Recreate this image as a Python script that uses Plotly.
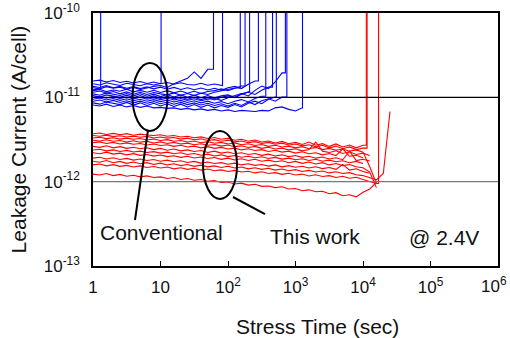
import plotly.graph_objects as go

# time grid (s)
T = [1, 1.26, 1.58, 2.0, 2.51, 3.16, 3.98, 5.01, 6.31, 7.94,
     10, 12.6, 15.8, 20.0, 25.1, 31.6, 39.8, 50.1, 63.1, 79.4,
     100, 126, 158, 200, 251, 316, 398, 501, 631, 794,
     1000, 1260, 1580, 2000, 2510, 3160, 3980, 5010, 6310, 7940,
     10000, 12600, 15800, 20000, 25100]

# Conventional cells: leakage in pA on the T grid, then breakdown time (s)
conv_01 = [12.3, 12.5]
conv_02 = [14.5, 14.0, 14.9, 14.3, 13.8, 14.7, 14.2, 13.7, 14.5, 14.0, 14.6]
conv_03 = [13.0, 12.6, 13.4, 12.8, 13.2, 12.5, 13.1, 12.4, 12.9, 13.5, 13.8, 13.1,
           14.5, 15.5, 16.8, 20.0, 16.8, 21.5]
conv_04 = [15.6, 16.0, 15.2, 15.8, 15.0, 15.5, 14.8, 15.4, 14.6, 15.2, 14.5, 15.0,
           14.3, 14.9, 14.2, 14.0, 14.7, 13.9, 14.4, 13.8]
conv_05 = [11.5, 11.9, 11.2, 11.7, 11.0, 11.6, 10.9, 11.5, 10.8, 11.4, 11.0, 10.7,
           11.3, 10.6, 11.1, 10.5, 11.2, 10.8, 11.5, 11.9, 12.4, 12.9]
conv_06 = [12.0, 12.4, 11.7, 12.2, 11.8, 12.5, 11.6, 12.1, 11.5, 12.1, 11.4, 12.0,
           11.3, 11.9, 11.2, 11.8, 11.1, 11.7, 12.0, 12.6, 12.0, 12.9, 13.6]
conv_07 = [10.5, 10.1, 10.7, 10.3, 10.0, 10.6, 9.9, 10.5, 9.8, 10.4, 9.7, 10.3,
           9.6, 10.1, 9.5, 10.0, 9.4, 9.9, 9.3, 10.0, 10.4, 9.9, 10.9, 11.6]
conv_08 = [13.5, 13.1, 13.8, 13.0, 13.5, 12.8, 13.4, 12.7, 13.3, 12.6, 13.2, 12.5,
           13.1, 12.4, 13.0, 12.3, 12.9, 12.2, 12.8, 12.1, 13.0, 13.5, 12.7, 14.3, 15.6]
conv_09 = [9.5, 9.8, 9.3, 9.7, 9.2, 9.6, 9.1, 9.5, 9.0, 9.4, 8.9, 9.3,
           8.8, 9.2, 8.7, 9.1, 8.6, 9.0, 8.5, 8.9, 8.4, 9.0, 9.4, 8.8, 9.7, 10.3]
conv_10 = [11.0, 10.6, 11.3, 10.8, 10.5, 11.1, 10.4, 11.0, 10.3, 10.9, 10.2, 10.8,
           10.1, 10.7, 10.0, 10.6, 9.9, 10.5, 9.8, 10.4, 10.7, 10.0, 11.0, 11.5,
           10.8, 12.1, 13.2]
conv_11 = [8.6, 8.3, 8.8, 8.4, 8.2, 8.7, 8.1, 8.6, 8.0, 8.5, 7.9, 8.4,
           7.8, 8.3, 7.7, 8.2, 7.6, 8.1, 7.5, 8.0, 7.6, 8.2, 7.7, 8.5, 9.0, 8.4, 9.5, 10.1]
conv_12 = [10.0, 10.3, 9.8, 10.2, 9.7, 10.1, 9.6, 10.0, 9.5, 9.9, 9.4, 9.8,
           9.3, 9.7, 9.2, 9.6, 9.1, 9.5, 9.7, 9.2, 9.9, 10.5, 11.1, 10.4, 12.1, 13.6,
           12.7, 15.2, 19.5]
conv_13 = [9.0, 9.3, 8.8, 9.2, 8.7, 9.1, 8.6, 9.0, 8.5, 8.9, 8.4, 8.8,
           8.3, 8.7, 8.2, 8.6, 8.1, 8.5, 8.0, 8.4, 7.9, 8.5, 8.0, 8.8, 8.2, 9.1,
           9.6, 9.0, 10.1]
conv_14 = [8.1, 7.9, 8.3, 7.8, 8.1, 7.7, 8.0, 7.6, 7.9, 7.5, 7.6, 7.4,
           7.5, 7.2, 7.4, 7.1, 7.3, 7.0, 7.2, 6.9, 7.1, 6.8, 7.0, 6.9, 6.8, 7.0,
           6.9, 7.5, 7.7, 7.2, 6.9, 7.5]
conv_curves = [conv_01, conv_02, conv_03, conv_04, conv_05, conv_06, conv_07,
               conv_08, conv_09, conv_10, conv_11, conv_12, conv_13, conv_14]
conv_fail = [1.3, 10.2, 61, 83, 152, 179, 209, 282, 363, 457, 520, 708, 745, 1270]

# This work cells: leakage in pA on the T grid, then breakdown time (s) or None
work_01 = [3.70, 3.78, 3.62, 3.74, 3.60, 3.71, 3.55, 3.66, 3.58, 3.52,
           3.60, 3.45, 3.52, 3.38, 3.46, 3.32, 3.40, 3.25, 3.34, 3.18,
           3.26, 3.10, 3.18, 3.02, 3.12, 2.95, 3.04, 2.88, 3.00, 2.82,
           2.92, 2.76, 2.95, 2.70, 2.82, 2.62, 2.80, 2.58, 2.72, 2.52, 2.70]
work_02 = [3.52, 3.45, 3.56, 3.42, 3.50, 3.38, 3.47, 3.36, 3.44, 3.30,
           3.38, 3.28, 3.34, 3.20, 3.28, 3.14, 3.22, 3.08, 3.15, 3.02,
           3.10, 2.96, 3.03, 2.90, 2.98, 2.84, 2.92, 2.78, 2.86, 2.72,
           2.80, 2.66, 2.74, 2.60, 2.70, 2.52, 2.64, 2.46, 2.58, 2.40, 2.50]
work_03 = [3.30, 3.36, 3.24, 3.32, 3.20, 3.28, 3.18, 3.25, 3.12, 3.20,
           3.08, 3.15, 3.02, 3.08, 2.96, 3.04, 2.90, 2.98, 2.86, 2.92,
           2.80, 2.88, 2.74, 2.82, 2.68, 2.76, 2.62, 2.70, 2.58, 2.64,
           2.52, 2.60, 2.46, 2.55, 2.40, 2.48, 2.36, 2.44, 2.30, 2.38, 2.24,
           1.50, 0.95]
work_04 = [3.10, 3.04, 3.14, 3.02, 3.08, 2.96, 3.05, 2.94, 3.00, 2.88,
           2.96, 2.84, 2.92, 2.80, 2.86, 2.74, 2.82, 2.70, 2.76, 2.64,
           2.72, 2.60, 2.66, 2.54, 2.62, 2.48, 2.56, 2.44, 2.50, 2.38,
           2.46, 2.32, 2.40, 2.95, 2.30, 2.22, 2.32, 2.16, 2.26, 2.10, 2.18, 2.04]
work_05 = [2.90, 2.96, 2.84, 2.92, 2.80, 2.88, 2.78, 2.84, 2.72, 2.80,
           2.68, 2.74, 2.62, 2.70, 2.58, 2.64, 2.52, 2.60, 2.48, 2.55,
           2.44, 2.50, 2.38, 2.46, 2.34, 2.40, 2.28, 2.36, 2.24, 2.30,
           2.18, 2.26, 2.14, 2.20, 2.08, 2.16, 2.04, 2.45, 2.00, 2.06, 1.92]
work_06 = [2.62, 2.55, 2.66, 2.52, 2.60, 2.48, 2.56, 2.46, 2.52, 2.40,
           2.48, 2.36, 2.44, 2.32, 2.38, 2.28, 2.34, 2.22, 2.30, 2.18,
           2.25, 2.14, 2.20, 2.10, 2.16, 2.05, 2.12, 2.02, 2.08, 1.98,
           2.04, 1.94, 2.00, 1.90, 1.96, 1.86, 1.92, 1.82, 2.30, 1.78, 1.84, 1.76]
work_07 = [2.37, 2.42, 2.32, 2.38, 2.28, 2.35, 2.25, 2.30, 2.22, 2.27,
           2.18, 2.24, 2.14, 2.20, 2.10, 2.16, 2.06, 2.12, 2.02, 2.08,
           1.98, 2.04, 1.95, 2.00, 1.92, 1.97, 1.88, 1.94, 1.85, 1.90,
           1.82, 1.87, 1.78, 1.84, 1.75, 1.80, 1.72, 1.77, 1.68, 1.74, 1.64]
work_08 = [2.20, 2.14, 2.24, 2.12, 2.18, 2.08, 2.15, 2.05, 2.10, 2.01,
           2.07, 1.98, 2.03, 1.94, 2.00, 1.91, 1.96, 1.88, 1.93, 1.84,
           1.90, 1.81, 1.87, 1.78, 1.84, 1.75, 1.80, 1.72, 1.77, 1.68,
           1.74, 1.65, 1.71, 1.62, 1.68, 1.58, 1.64, 1.55, 1.60, 1.50, 1.46,
           1.30, 0.85]
work_09 = [1.90, 1.95, 1.86, 1.92, 1.83, 1.89, 1.80, 1.86, 1.78, 1.83,
           1.75, 1.80, 1.72, 1.77, 1.69, 1.74, 1.66, 1.71, 1.64, 1.68,
           1.61, 1.66, 1.58, 1.63, 1.56, 1.60, 1.53, 1.58, 1.50, 1.55,
           1.48, 1.52, 1.45, 1.50, 1.43, 1.47, 1.40, 1.60, 1.37, 1.42, 1.32, 1.26]
work_10 = [1.75, 1.70, 1.78, 1.68, 1.74, 1.65, 1.71, 1.63, 1.68, 1.60,
           1.66, 1.58, 1.63, 1.55, 1.60, 1.52, 1.57, 1.50, 1.54, 1.47,
           1.52, 1.45, 1.49, 1.42, 1.46, 1.40, 1.44, 1.37, 1.41, 1.35,
           1.39, 1.32, 1.36, 1.30, 1.34, 1.27, 1.31, 1.25, 1.28, 1.21, 1.18,
           1.12, 1.05, 1.25, 6.8]
work_11 = [1.58, 1.62, 1.54, 1.59, 1.52, 1.56, 1.49, 1.54, 1.47, 1.51,
           1.45, 1.49, 1.42, 1.46, 1.40, 1.44, 1.37, 1.41, 1.35, 1.38,
           1.32, 1.36, 1.30, 1.33, 1.27, 1.31, 1.25, 1.28, 1.22, 1.26,
           1.20, 1.23, 1.17, 1.21, 1.15, 1.18, 1.12, 1.16, 1.10, 1.13, 1.06,
           1.00, 0.95]
work_12 = [1.23, 1.20, 1.25, 1.18, 1.22, 1.16, 1.19, 1.14, 1.17, 1.12,
           1.14, 1.09, 1.12, 1.06, 1.09, 1.04, 1.06, 1.01, 1.03, 0.98,
           0.99, 0.94, 0.96, 0.91, 0.93, 0.88, 0.89, 0.85, 0.87, 0.82,
           0.83, 0.78, 0.80, 0.76, 0.77, 0.72, 0.74, 0.68, 0.70, 0.66, 0.75,
           0.82, 0.98]
work_curves = [work_01, work_02, work_03, work_04, work_05, work_06,
               work_07, work_08, work_09, work_10, work_11, work_12]
work_fail = [11200, 11500, 17000, None, None, None, None, None, None, None, None, None]

BREAKDOWN_LEVEL = 1e-9  # off-scale after breakdown

x_tickvals = [1, 10, 100, 1e3, 1e4, 1e5, 1e6]
x_ticktext = ["1", "10", "10<sup>2</sup>", "10<sup>3</sup>", "10<sup>4</sup>",
              "10<sup>5</sup>", "10<sup>6</sup>"]
y_tickvals = [1e-13, 1e-12, 1e-11, 1e-10]
y_ticktext = ["10<sup>-13</sup>", "10<sup>-12</sup>", "10<sup>-11</sup>", "10<sup>-10</sup>"]

fig = go.Figure()


def add_curve(vals, fail, color):
    x = list(T[:len(vals)])
    y = [v * 1e-12 for v in vals]
    if fail is not None:
        x += [fail, fail]
        y += [y[-1], BREAKDOWN_LEVEL]
    fig.add_trace(go.Scatter(x=x, y=y, mode="lines",
                             line=dict(color=color, width=1.1),
                             hoverinfo="skip", showlegend=False))


for vals, f in zip(conv_curves, conv_fail):
    add_curve(vals, f, "#0000ff")
for vals, f in zip(work_curves, work_fail):
    add_curve(vals, f, "#ff0000")

FONT = "Liberation Sans, Arial, sans-serif"
TXT = "#111111"

fig.update_layout(
    width=510, height=338,
    margin=dict(l=93, r=12, t=13, b=72),
    paper_bgcolor="white", plot_bgcolor="white",
    font=dict(family=FONT, color=TXT, size=17),
    xaxis=dict(type="log", range=[0, 6], tickvals=x_tickvals[:-1],
               ticktext=x_ticktext[:-1],
               ticks="inside", ticklen=5, tickwidth=1, tickcolor="black",
               showline=True, linecolor="black", linewidth=1.5, mirror=True,
               showgrid=False, zeroline=False, tickfont=dict(size=17),
               ticklabelstandoff=5, automargin=False),
    yaxis=dict(type="log", range=[-13, -10], tickvals=y_tickvals, ticktext=y_ticktext,
               ticks="", showline=True, linecolor="black", linewidth=1.5, mirror=True,
               showgrid=False, zeroline=False, tickfont=dict(size=17),
               ticklabelstandoff=8, automargin=False),
)

# last x tick label (would be clipped at the figure edge as a normal tick label)
fig.add_annotation(text=x_ticktext[-1], xref="paper", yref="paper", x=1, y=0,
                   xanchor="right", yanchor="top", xshift=11, yshift=-6,
                   showarrow=False, font=dict(family=FONT, size=17, color=TXT))

# horizontal reference lines at 1e-11 and 1e-12
fig.add_shape(type="line", xref="paper", yref="paper", x0=0, x1=1, y0=2/3, y1=2/3,
              line=dict(color="black", width=1.2), layer="above")
fig.add_shape(type="line", xref="paper", yref="paper", x0=0, x1=1, y0=1/3, y1=1/3,
              line=dict(color="#777777", width=1.2), layer="above")

# ellipses and pointers
fig.add_shape(type="circle", xref="paper", yref="paper",
              x0=0.0975, x1=0.184, y0=0.534, y1=0.802,
              line=dict(color="black", width=2), layer="above")
fig.add_shape(type="line", xref="paper", yref="paper",
              x0=0.1358, y0=0.5375, x1=0.1037, y1=0.1818,
              line=dict(color="black", width=2), layer="above")
fig.add_shape(type="circle", xref="paper", yref="paper",
              x0=0.2716, x1=0.3556, y0=0.2648, y1=0.5336,
              line=dict(color="black", width=2), layer="above")
fig.add_shape(type="line", xref="paper", yref="paper",
              x0=0.3457, y0=0.2727, x1=0.4247, y1=0.2055,
              line=dict(color="black", width=2), layer="above")

ann = dict(xref="paper", yref="paper", showarrow=False, xanchor="center",
           yanchor="middle", font=dict(family=FONT, size=21, color=TXT))
fig.add_annotation(text="Conventional", x=0.169, y=0.134, **ann)
fig.add_annotation(text="This work", x=0.548, y=0.115, **ann)
fig.add_annotation(text="@ 2.4V", x=0.867, y=0.111, **ann)
fig.add_annotation(text="Stress Time (sec)", x=0.554, y=-0.241, **ann)
fig.add_annotation(text="Leakage Current (A/cell)", x=-0.183, y=0.5,
                   textangle=-90, **ann)

fig.write_html("out.html")
